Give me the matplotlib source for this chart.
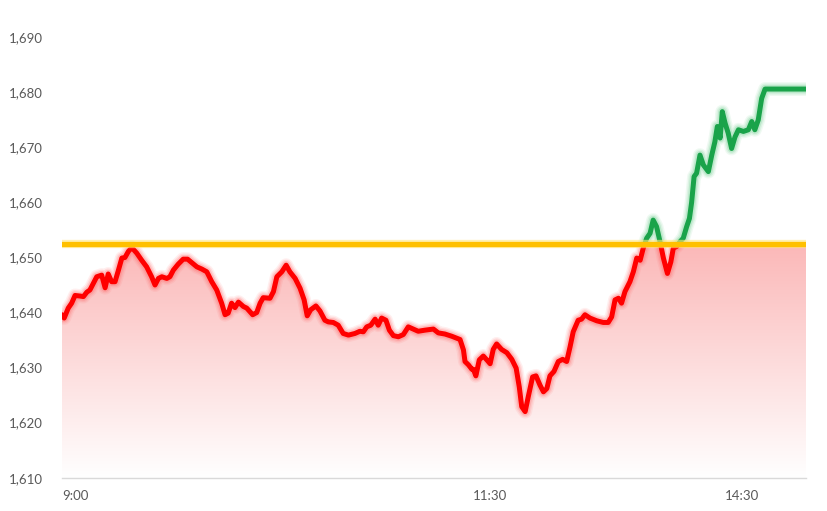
import matplotlib.pyplot as plt
import numpy as np
from matplotlib.patches import Rectangle

# intraday price (minutes from the left edge of the chart)
minutes = [0.0, 0.7, 2.0, 3.1, 4.2, 5.8, 6.9, 8.0, 9.0, 10.1, 11.2, 12.8, 13.9, 14.9,
           16.0, 17.1, 18.2, 19.3, 20.3, 21.4, 22.5, 24.1, 25.7, 27.3, 28.9, 30.0,
           31.1, 32.2, 33.8, 34.8, 35.9, 37.5, 39.1, 40.5, 41.8, 43.5, 45.1, 46.7,
           48.3, 49.9, 51.5, 52.6, 53.6, 54.7, 55.8, 56.9, 58.5, 59.6, 61.5, 62.8,
           63.9, 64.9, 67.1, 68.2, 69.3, 70.9, 72.3, 73.5, 75.2, 76.8, 78.1, 79.1,
           80.2, 81.9, 83.2, 84.8, 85.9, 87.5, 89.1, 90.7, 92.4, 94.5, 96.1, 97.2,
           98.3, 99.6, 101.0, 102.0, 103.1, 104.5, 105.6, 106.9, 108.5, 110.1, 111.7,
           113.3, 114.9, 117.1, 119.8, 121.4, 123.5, 125.7, 128.4, 129.5, 130.0,
           131.1, 132.2, 132.7, 133.5, 134.6, 135.9, 137.2, 138.1, 139.1, 140.2,
           141.8, 143.5, 145.1, 146.5, 147.5, 148.3, 149.4, 150.4, 151.8, 152.9,
           154.2, 155.3, 156.4, 157.4, 158.7, 160.1, 161.5, 162.8, 163.9, 164.9,
           166.5, 167.6, 168.7, 170.3, 172.5, 174.6, 176.2, 177.3, 178.4, 179.5,
           180.5, 181.6, 183.2, 184.3, 185.4, 186.5, 187.5, 188.6, 189.7, 190.7,
           191.8, 192.9, 194.0, 195.3, 196.4, 197.2, 198.3, 199.4, 200.4, 201.5,
           202.4, 203.1, 203.9, 204.7, 205.8, 206.9, 208.5, 209.6, 210.6, 211.4,
           212.3, 213.0, 213.9, 214.9, 216.0, 217.1, 218.2, 219.8, 221.4, 222.5,
           223.5, 224.6, 225.7, 226.8, 240.0]
price = [1639.6, 1639.0, 1640.8, 1641.7, 1643.1, 1643.0, 1642.9, 1643.7, 1644.1, 1645.3,
         1646.5, 1646.8, 1644.5, 1647.0, 1645.6, 1645.6, 1647.7, 1649.9, 1650.0, 1651.1,
         1651.8, 1650.8, 1649.5, 1648.3, 1646.5, 1645.0, 1646.2, 1646.5, 1646.2, 1646.5,
         1647.7, 1648.8, 1649.7, 1649.7, 1649.1, 1648.3, 1647.9, 1647.4, 1645.6, 1644.1,
         1641.7, 1639.6, 1639.9, 1641.7, 1640.9, 1641.9, 1641.1, 1640.8, 1639.6, 1640.0,
         1641.7, 1642.7, 1642.6, 1643.8, 1646.5, 1647.4, 1648.6, 1647.4, 1646.2, 1644.4,
         1642.3, 1639.4, 1640.5, 1641.2, 1640.3, 1638.6, 1638.3, 1638.2, 1637.7, 1636.2,
         1635.9, 1636.2, 1636.6, 1636.5, 1637.4, 1637.7, 1638.8, 1637.7, 1639.0, 1638.6,
         1636.8, 1635.8, 1635.6, 1636.0, 1637.4, 1637.0, 1636.6, 1636.8, 1637.0, 1636.3,
         1636.1, 1635.7, 1635.1, 1633.2, 1631.1, 1630.5, 1629.7, 1629.7, 1628.5, 1631.4,
         1632.1, 1631.3, 1630.7, 1633.3, 1634.3, 1633.3, 1632.7, 1631.5, 1629.9, 1626.5,
         1622.9, 1622.0, 1624.7, 1628.3, 1628.5, 1626.8, 1625.6, 1626.2, 1628.5, 1629.3,
         1631.1, 1631.5, 1631.1, 1633.8, 1636.5, 1638.6, 1638.8, 1639.6, 1639.0, 1638.5,
         1638.2, 1638.2, 1639.2, 1642.3, 1642.6, 1641.7, 1643.8, 1645.6, 1647.4, 1649.9,
         1649.5, 1651.7, 1653.5, 1654.4, 1656.8, 1655.6, 1652.9, 1649.9, 1647.1, 1649.2,
         1651.7, 1652.0, 1652.9, 1653.5, 1655.6, 1657.1, 1660.0, 1664.7, 1665.3, 1668.6,
         1666.8, 1665.6, 1668.6, 1671.0, 1673.8, 1671.7, 1676.5, 1674.4, 1672.6, 1669.8,
         1671.9, 1673.2, 1672.9, 1673.2, 1674.7, 1673.2, 1675.0, 1678.9, 1680.6, 1680.6]
prev_close = 1652.5

tick_pos = [4.2, 138.1, 219.4]
tick_labels = ['9:00', '11:30', '14:30']
y_ticks = [1610, 1620, 1630, 1640, 1650, 1660, 1670, 1680, 1690]

t = np.array(minutes)
p = np.array(price)

fig = plt.figure(figsize=(8.27, 5.11), dpi=100)
ax = fig.add_axes([0.075, 0.0652, 0.8996, 0.8618])
ax.set_xlim(0, 240)
ax.set_ylim(1610, 1690)

# gradient area under the lower of price / previous close
area = ax.fill_between(t, np.minimum(p, prev_close), 1610, facecolor='none', edgecolor='none')
grad = np.linspace(0, 1, 256)[:, None]
top = np.array([251, 184, 184]) / 255
rgb = top[None, None, :] * (1 - grad[:, :, None]) + np.ones(3)[None, None, :] * grad[:, :, None]
im = ax.imshow(rgb, extent=[0, 240, 1610, prev_close], aspect='auto', origin='upper', zorder=1)
im.set_clip_path(area.get_paths()[0], transform=ax.transData)

below = Rectangle((0, 1600), 240, prev_close - 1600, transform=ax.transData)
above = Rectangle((0, prev_close), 240, 100, transform=ax.transData)

for color, glow, clip in [('#ff0000', '#ff6666', below), ('#1aa34a', '#66cc88', above)]:
    for w, a in [(10, 0.10), (8, 0.15), (6, 0.25)]:
        g, = ax.plot(t, p, color=glow, lw=w, alpha=a, solid_capstyle='round', zorder=2)
        g.set_clip_path(clip)
    ln, = ax.plot(t, p, color=color, lw=3.6, solid_joinstyle='round',
                  solid_capstyle='round', zorder=3)
    ln.set_clip_path(clip)

ax.axhline(prev_close, color='#ffe680', lw=6, alpha=0.6, zorder=4)
ax.axhline(prev_close, color='#ffc000', lw=3.8, zorder=5)

for s in ['top', 'right', 'left']:
    ax.spines[s].set_visible(False)
ax.spines['bottom'].set_color('#d9d9d9')
ax.spines['bottom'].set_linewidth(1)

ax.set_yticks(y_ticks)
ax.set_yticklabels([f'{v:,}' for v in y_ticks])
ax.set_xticks(tick_pos)
ax.set_xticklabels(tick_labels)
ax.tick_params(axis='y', length=0, pad=14, labelsize=9.5, labelcolor='#595959')
ax.tick_params(axis='x', length=0, pad=9, labelsize=9.5, labelcolor='#595959')
for lab in ax.get_xticklabels() + ax.get_yticklabels():
    lab.set_fontfamily('Lato')

fig.savefig('out.png', dpi=100)
